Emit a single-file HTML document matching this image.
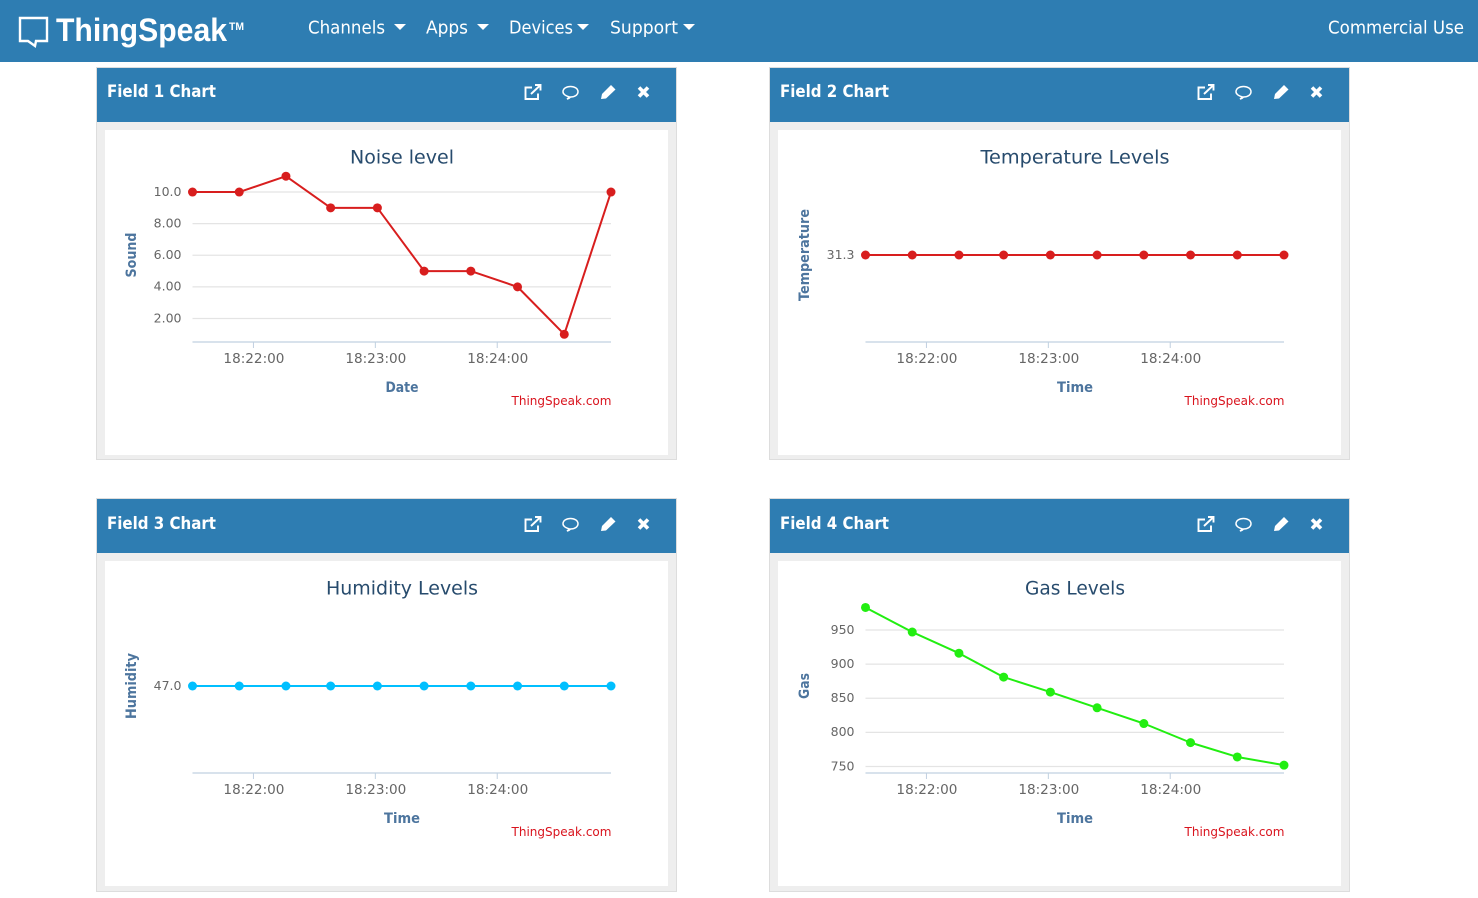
<!DOCTYPE html>
<html lang="en">
<head>
<meta charset="utf-8">
<title>ThingSpeak Channel Charts</title>
<style>
html,body{margin:0;padding:0;background:#fff;width:1478px;height:898px;overflow:hidden}
#nav{position:absolute;left:0;top:0;width:1478px;height:62px;background:#2e7db2}
.panel{position:absolute;width:579px;background:#eee;border:1px solid #ddd}
.phead{position:absolute;left:0;top:0;width:579px;height:54px;background:#2e7db2}
.pbody{position:absolute;left:8px;top:62px;width:563px;height:325px;background:#fff}
svg{position:absolute;left:0;top:0;display:block}
text{font-family:"DejaVu Sans","Liberation Sans",sans-serif}
</style>
</head>
<body>
<div id="nav">
<svg width="1478" height="62">
  <g>
    <path d="M20 18H47V41H36L35 46L28 41H20Z" fill="none" stroke="#fff" stroke-width="2.4"/>
    <text x="56" y="41" font-size="32" font-weight="700" fill="#fff" textLength="171" lengthAdjust="spacingAndGlyphs" style="font-family:'Liberation Sans',sans-serif">ThingSpeak</text>
    <text x="229" y="30" font-size="11" font-weight="700" fill="#fff" textLength="15" lengthAdjust="spacingAndGlyphs" style="font-family:'Liberation Sans',sans-serif">TM</text>
  </g>
  <g fill="#fff" font-size="18">
    <text x="308" y="33.5" textLength="77" lengthAdjust="spacingAndGlyphs">Channels</text>
    <path d="M394 24H406L400 30Z"/>
    <text x="426" y="33.5" textLength="42" lengthAdjust="spacingAndGlyphs">Apps</text>
    <path d="M477 24H489L483 30Z"/>
    <text x="509" y="33.5" textLength="64" lengthAdjust="spacingAndGlyphs">Devices</text>
    <path d="M577 24H589L583 30Z"/>
    <text x="610" y="33.5" textLength="68" lengthAdjust="spacingAndGlyphs">Support</text>
    <path d="M683 24H695L689 30Z"/>
    <text x="1328" y="33.5" textLength="136" lengthAdjust="spacingAndGlyphs">Commercial Use</text>
  </g>
</svg>
</div>

<div class="panel" style="left:96px;top:67px;height:391px">
  <div class="phead" id="head1"></div>
  <div class="pbody" id="body1"></div>
</div>
<div class="panel" style="left:769px;top:67px;height:391px">
  <div class="phead" id="head2"></div>
  <div class="pbody" id="body2"></div>
</div>
<div class="panel" style="left:96px;top:498px;height:392px">
  <div class="phead" id="head3"></div>
  <div class="pbody" id="body3"></div>
</div>
<div class="panel" style="left:769px;top:498px;height:392px">
  <div class="phead" id="head4"></div>
  <div class="pbody" id="body4"></div>
</div>

<script>
var sampleTimes = ['18:21:30','18:21:53','18:22:16','18:22:38','18:23:01','18:23:24','18:23:47','18:24:10','18:24:33','18:24:56'];
var timeTickLabels = ['18:22:00','18:23:00','18:24:00'];
var timeDomain = ['18:21:30','18:24:56'];

var noiseValues = [10,10,11,9,9,5,5,4,1,10];
var noiseTickLabels = ['10.0','8.00','6.00','4.00','2.00'];
var noiseDomain = [0.513,11.52];

var temperatureValues = [31.3,31.3,31.3,31.3,31.3,31.3,31.3,31.3,31.3,31.3];
var temperatureTickLabels = ['31.3'];
var temperatureDomain = [30.3,32.3];

var humidityValues = [47,47,47,47,47,47,47,47,47,47];
var humidityTickLabels = ['47.0'];
var humidityDomain = [46,48];

var gasValues = [983,947,916,881,859,836,813,785,764,752];
var gasTickLabels = ['950','900','850','800','750'];
var gasDomain = [740.5,995.4];

var SVGNS = 'http://www.w3.org/2000/svg';
var PLOT = {left:87.5,right:506,top:38,bottom:212};

function make(tag, parent, attrs){
  var el = document.createElementNS(SVGNS, tag);
  for (var k in attrs) el.setAttribute(k, attrs[k]);
  parent.appendChild(el);
  return el;
}
function seconds(t){
  var p = t.split(':');
  return (+p[0])*3600 + (+p[1])*60 + (+p[2]);
}
function xScale(t){
  var a = seconds(timeDomain[0]), b = seconds(timeDomain[1]);
  return PLOT.left + (seconds(t)-a)/(b-a)*(PLOT.right-PLOT.left);
}
function yScale(v, domain){
  return PLOT.bottom - (v-domain[0])/(domain[1]-domain[0])*(PLOT.bottom-PLOT.top);
}

function drawHeader(id, label, dy){
  var svg = make('svg', document.getElementById(id), {width:579,height:54});
  
  
  var root = make('g', svg, {transform:'translate(0,' + dy + ')'});
  
  
  var title = make('text', root, {x:10,y:29,'font-size':17,'font-weight':700,fill:'#fff',textLength:109,lengthAdjust:'spacingAndGlyphs'});
  
  
  title.textContent = label;

  var open = make('path', root, {d:'M435 19.5H428.5V31H441V25.5M434 26L443 17.5M438 17H443.5V22.5',fill:'none',stroke:'#fff','stroke-width':1.9});
  
  

  var comment = make('path', root, {d:'M472.5 29C469 28 466 26.5 466 23.8C466 20.5 469.5 18.5 473.5 18.5C477.5 18.5 481 20.5 481 23.8C481 27 477.5 29 473.5 29C472.8 30 471.5 30.7 470 31C471 30.3 471.8 29.7 472.5 29Z',fill:'none',stroke:'#fff','stroke-width':1.5});
  
  

  var pencil = make('path', root, {d:'M504 31L505 26L514 17L518.5 21.5L509 30.5Z',fill:'#fff'});
  
  

  var close = make('path', root, {d:'M542 19.5L551 28.5M551 19.5L542 28.5',fill:'none',stroke:'#fff','stroke-width':3.6});
  
  
}

function drawChart(id, cfg){
  var svg = make('svg', document.getElementById(id), {width:563,height:325});
  
  

  var title = make('text', svg, {x:297,y:33.5,'font-size':19,fill:'#274b6d','text-anchor':'middle',textLength:cfg.titleWidth,lengthAdjust:'spacingAndGlyphs'});
  
  
  title.textContent = cfg.title;

  cfg.tickLabels.forEach(function(label){
    var y = yScale(parseFloat(label), cfg.domain);
    if (cfg.showGrid) {
      var grid = make('line', svg, {x1:PLOT.left,x2:PLOT.right,y1:y,y2:y,stroke:'#e4e4e4','stroke-width':1.2});
      
      
    }
    var tick = make('text', svg, {x:76.5,y:y+3.8,'font-size':12.5,fill:'#666','text-anchor':'end'});
    
    
    tick.textContent = label;
  });

  var axis = make('line', svg, {x1:PLOT.left,x2:PLOT.right,y1:PLOT.bottom,y2:PLOT.bottom,stroke:'#c0d0e0','stroke-width':1.2});
  
  

  timeTickLabels.forEach(function(label){
    var x = xScale(label);
    var mark = make('line', svg, {x1:x,x2:x,y1:PLOT.bottom,y2:PLOT.bottom+6,stroke:'#c0d0e0','stroke-width':1});
    
    
    var tick = make('text', svg, {x:x+0.5,y:PLOT.bottom+21,'font-size':13,fill:'#666','text-anchor':'middle',textLength:61,lengthAdjust:'spacingAndGlyphs'});
    
    
    tick.textContent = label;
  });

  var xTitle = make('text', svg, {x:297,y:262,'font-size':14.5,'font-weight':700,fill:'#4d759e','text-anchor':'middle',textLength:cfg.xTitleWidth,lengthAdjust:'spacingAndGlyphs'});
  
  
  xTitle.textContent = cfg.xTitle;

  var yTitle = make('text', svg, {transform:'translate(31,125) rotate(-90)','font-size':14.5,'font-weight':700,fill:'#4d759e','text-anchor':'middle',textLength:cfg.yTitleWidth,lengthAdjust:'spacingAndGlyphs'});
  
  
  yTitle.textContent = cfg.yTitle;

  var pts = cfg.values.map(function(v,i){
    return xScale(sampleTimes[i]).toFixed(2) + ',' + yScale(v, cfg.domain).toFixed(2);
  }).join(' ');
  var line = make('polyline', svg, {points:pts,fill:'none',stroke:cfg.color,'stroke-width':2,'stroke-linejoin':'round'});
  
  

  cfg.values.forEach(function(v,i){
    var dot = make('circle', svg, {cx:xScale(sampleTimes[i]),cy:yScale(v, cfg.domain),r:4.5,fill:cfg.color});
    
    
  });

  var credit = make('text', svg, {x:506.5,y:275,'font-size':12.5,fill:'#d9141e','text-anchor':'end',textLength:100,lengthAdjust:'spacingAndGlyphs'});
  
  
  credit.textContent = 'ThingSpeak.com';
}

drawHeader('head1','Field 1 Chart',0);
drawHeader('head2','Field 2 Chart',0);
drawHeader('head3','Field 3 Chart',1);
drawHeader('head4','Field 4 Chart',1);

drawChart('body1',{title:'Noise level',titleWidth:104,xTitle:'Date',xTitleWidth:33,yTitle:'Sound',yTitleWidth:45,values:noiseValues,domain:noiseDomain,tickLabels:noiseTickLabels,color:'#d81e1e',showGrid:true});
drawChart('body2',{title:'Temperature Levels',titleWidth:189,xTitle:'Time',xTitleWidth:36,yTitle:'Temperature',yTitleWidth:92,values:temperatureValues,domain:temperatureDomain,tickLabels:temperatureTickLabels,color:'#d81e1e',showGrid:false});
drawChart('body3',{title:'Humidity Levels',titleWidth:152,xTitle:'Time',xTitleWidth:36,yTitle:'Humidity',yTitleWidth:66,values:humidityValues,domain:humidityDomain,tickLabels:humidityTickLabels,color:'#00bfff',showGrid:false});
drawChart('body4',{title:'Gas Levels',titleWidth:100,xTitle:'Time',xTitleWidth:36,yTitle:'Gas',yTitleWidth:26,values:gasValues,domain:gasDomain,tickLabels:gasTickLabels,color:'#22ee11',showGrid:true});
</script>
</body>
</html>
